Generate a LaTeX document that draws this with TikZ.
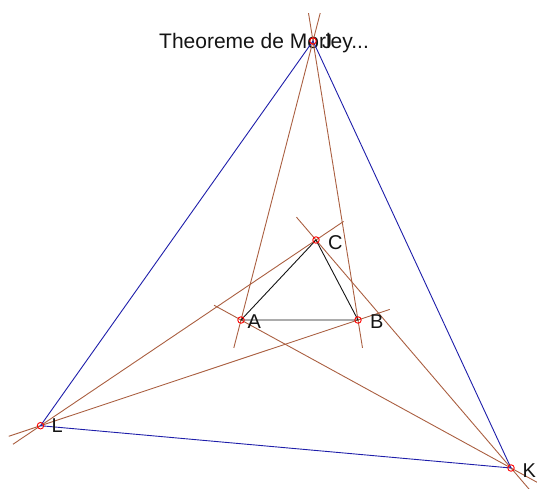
\documentclass[tikz,border=0pt]{standalone}
\usepackage{fontspec}
\setmainfont{Liberation Sans}
\usetikzlibrary{calc}
\definecolor{brn}{RGB}{170,95,65}
\definecolor{blu}{RGB}{30,30,170}
\definecolor{ink}{RGB}{20,20,20}
\begin{document}
\begin{tikzpicture}[x=1pt,y=-1pt,
  brnline/.style={draw=brn,line width=0.9pt},
  bluline/.style={draw=blu,line width=0.9pt},
  triline/.style={draw=ink,line width=0.9pt},
  ptmark/.style={circle,draw=red,line width=0.9pt,minimum size=6.5pt,inner sep=0pt},
  lbl/.style={anchor=base west,inner sep=0pt,text=ink,font=\fontsize{20}{22}\selectfont}]
\useasboundingbox (0,0) rectangle (537,488);
\coordinate (A) at (241,320);
\coordinate (B) at (358,320);
\coordinate (C) at (316,240);
\coordinate (J) at (313,41);
\coordinate (L) at (40.5,425.7);
\coordinate (K) at (511,468);
% title
\node[anchor=base west,inner sep=0pt,text=ink,font=\fontsize{21}{24}\selectfont] (title) at (159,48) {Theoreme de Morley...};
% brown trisector lines
\draw[brnline] ($(J)!-0.1!(A)$) -- ($(J)!1.1!(A)$);
\draw[brnline] ($(J)!-0.1!(B)$) -- ($(J)!1.1!(B)$);
\draw[brnline] ($(L)!-0.1!(C)$) -- ($(L)!1.1!(C)$);
\draw[brnline] ($(L)!-0.1!(B)$) -- ($(L)!1.1!(B)$);
\draw[brnline] ($(K)!-0.1!(A)$) -- ($(K)!1.1!(A)$);
\draw[brnline] ($(K)!-0.1!(C)$) -- ($(K)!1.1!(C)$);
% blue triangle
\draw[bluline] (J) -- (L) -- (K) -- cycle;
% black triangle
\draw[triline] (A) -- (B) -- (C) -- cycle;
% point marks
\foreach \p in {A,B,C,J,L,K} {\node[ptmark] (m\p) at (\p) {};}
% labels
\node[lbl] (lA) at ($(A)+(6.5,8)$) {A};
\node[lbl] (lB) at ($(B)+(12,8)$) {B};
\node[lbl] (lC) at ($(C)+(12,9)$) {C};
\node[lbl] (lJ) at ($(J)+(9,7)$) {J};
\node[lbl] (lL) at ($(L)+(11,7)$) {L};
\node[lbl] (lK) at ($(K)+(11.5,9)$) {K};
\end{tikzpicture}
\end{document}
